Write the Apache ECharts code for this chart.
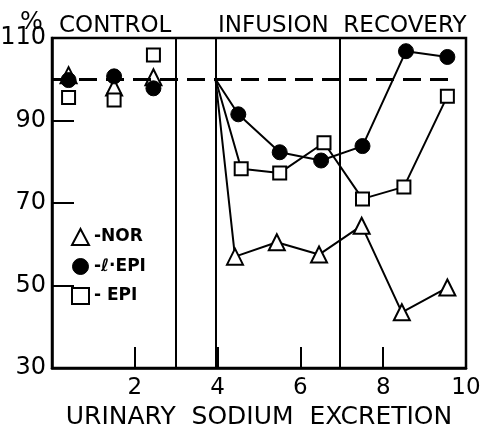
<!DOCTYPE html>
<html>
<head>
<meta charset="utf-8">
<script src="https://cdn.jsdelivr.net/npm/echarts@6/dist/echarts.min.js"></script>
<style>
  html, body { margin: 0; padding: 0; background: #fff; }
  #chart { width: 492px; height: 425px; }
</style>
</head>
<body>
<div id="chart"></div>
<script>
// control period (no connecting lines)
const controlX = [0.4, 1.5, 2.45];
const norControl = [101, 98, 100.5];
const lepiControl = [99.8, 100.7, 97.8];
const epiControl = [95.6, 95, 105.9];

// infusion + recovery, every curve starts at (3.95, 100)
const norX = [3.95, 4.42, 5.43, 6.45, 7.48, 8.45, 9.55];
const norVals = [100, 57, 60.5, 57.5, 64.5, 43.5, 49.5];
const lepiX = [3.95, 4.5, 5.5, 6.5, 7.5, 8.55, 9.55];
const lepiVals = [100, 91.5, 82.3, 80.3, 83.8, 106.8, 105.4];
const epiX = [3.95, 4.57, 5.5, 6.57, 7.5, 8.5, 9.55];
const epiVals = [100, 78.3, 77.3, 84.6, 71, 73.9, 95.9];

const phaseLines = [3, 3.95, 6.95];
const xTicks = [2, 4, 6, 8, 10];
const yTicks = [30, 50, 70, 90, 110];

const pairs = (xs, ys) => xs.map((x, i) => [x, ys[i]]);
const font = 'DejaVu Sans';

const hollow = { color: '#fff', borderColor: '#000', borderWidth: 2, opacity: 1 };
const solid = { color: '#000', borderColor: '#000', borderWidth: 1, opacity: 1 };

const chart = echarts.init(document.getElementById('chart'));
const option = {
  animation: false,
  backgroundColor: '#fff',
  title: [
    { text: '%', left: 15, top: 6, textStyle: { fontFamily: font, fontSize: 24, fontWeight: 'normal', color: '#000' } },
    { text: 'CONTROL', left: 54, top: 10, textStyle: { fontFamily: font, fontSize: 23, fontWeight: 'normal', color: '#000' } },
    { text: 'INFUSION  RECOVERY', left: 213, top: 10, textStyle: { fontFamily: font, fontSize: 23, fontWeight: 'normal', color: '#000' } }
  ],
  grid: {
    left: 52, right: 26, top: 38, bottom: 57,
    outerBoundsMode: 'none',
    show: true, borderColor: '#000', borderWidth: 2.5
  },
  legend: {
    orient: 'vertical',
    left: 66,
    top: 223,
    itemWidth: 17,
    itemHeight: 16,
    itemGap: 12,
    textStyle: { fontFamily: font, fontSize: 17, fontWeight: 'bold', color: '#000' },
    data: [
      { name: 'NOR', icon: 'triangle', itemStyle: hollow },
      { name: 'lEPI', icon: 'circle', itemStyle: solid },
      { name: 'EPI', icon: 'rect', itemStyle: hollow }
    ],
    formatter: (n) => ({ NOR: '-NOR', lEPI: '-ℓ·EPI', EPI: '- EPI' })[n]
  },
  xAxis: {
    type: 'value',
    min: 0,
    max: 10,
    interval: 2,
    axisLine: { show: true, lineStyle: { color: '#000', width: 2.5 } },
    axisTick: { show: true, inside: true, length: 21, lineStyle: { color: '#000', width: 2 } },
    splitLine: { show: false },
    axisLabel: {
      fontFamily: font, fontSize: 23, color: '#000', margin: 9,
      formatter: (v) => (xTicks.includes(v) ? String(v) : '')
    },
    name: 'URINARY  SODIUM  EXCRETION',
    nameLocation: 'middle',
    nameGap: 33,
    nameTextStyle: { fontFamily: font, fontSize: 25, color: '#000' }
  },
  yAxis: {
    type: 'value',
    min: 30,
    max: 110,
    interval: 20,
    axisLine: { show: true, lineStyle: { color: '#000', width: 2.5 } },
    axisTick: { show: true, inside: true, length: 22, lineStyle: { color: '#000', width: 2 } },
    splitLine: { show: false },
    axisLabel: {
      fontFamily: font, fontSize: 24, color: '#000', margin: 6,
      formatter: (v) => (yTicks.includes(v) ? String(v) : '')
    }
  },
  series: [
    {
      name: 'NOR',
      type: 'scatter',
      symbol: 'triangle',
      symbolSize: 16,
      itemStyle: hollow,
      data: pairs(controlX, norControl),
      markLine: {
        silent: true,
        symbol: 'none',
        label: { show: false },
        data: [
          ...phaseLines.map((x) => ({ xAxis: x, lineStyle: { color: '#000', width: 2, type: 'solid' } })),
          [
            { coord: [0, 100], lineStyle: { color: '#000', width: 3, type: [18, 9] } },
            { coord: [9.7, 100] }
          ]
        ]
      }
    },
    { name: 'lEPI', type: 'scatter', symbol: 'circle', symbolSize: 15, itemStyle: solid, data: pairs(controlX, lepiControl) },
    { name: 'EPI', type: 'scatter', symbol: 'rect', symbolSize: 13, itemStyle: hollow, data: pairs(controlX, epiControl) },
    {
      name: 'NOR', type: 'line', symbol: 'triangle', symbolSize: 16, itemStyle: hollow,
      lineStyle: { color: '#000', width: 2 },
      data: pairs(norX, norVals).map((p, i) => (i === 0 ? { value: p, symbol: 'none' } : p))
    },
    {
      name: 'EPI', type: 'line', symbol: 'rect', symbolSize: 13, itemStyle: hollow,
      lineStyle: { color: '#000', width: 2 },
      data: pairs(epiX, epiVals).map((p, i) => (i === 0 ? { value: p, symbol: 'none' } : p))
    },
    {
      name: 'lEPI', type: 'line', symbol: 'circle', symbolSize: 15, itemStyle: solid,
      lineStyle: { color: '#000', width: 2 },
      data: pairs(lepiX, lepiVals).map((p, i) => (i === 0 ? { value: p, symbol: 'none' } : p))
    }
  ]
};
chart.setOption(option);
window.addEventListener('resize', () => chart.resize());
</script>
</body>
</html>
